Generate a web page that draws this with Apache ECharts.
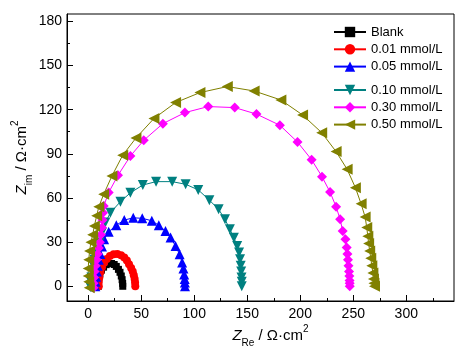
<!DOCTYPE html>
<html>
<head>
<meta charset="utf-8">
<script src="https://cdn.jsdelivr.net/npm/echarts@6.0.0/dist/echarts.min.js"></script>
<style>
html, body { margin: 0; padding: 0; background: #fff; }
#main { width: 471px; height: 353px; }
</style>
</head>
<body>
<div id="main"></div>
<script>
// Nyquist data, [Z_Re, Z_im] in ohm.cm2
var seriesNames = ['Blank', '0.01 mmol/L', '0.05 mmol/L', '0.10 mmol/L', '0.30 mmol/L', '0.50 mmol/L'];

var blankData = [[9.5,0],[9.5,3],[10,6],[11,8.5],[12.5,11],[14.5,13],[17,14.7],[19.5,15.5],[22,15.5],[24.5,14.8],
    [26.5,13.5],[28.5,11.5],[30,9.5],[31.2,7],[32,4.5],[32.5,2],[32.6,0]];

var data001 = [[10,0],[10,3],[10.5,6],[11.5,9.5],[13,13],[15,16],[17.5,18.5],[20.5,20.5],[24,21.8],[27.5,22],
    [31,21],[34,19.5],[36.5,17.5],[38.5,15],[40.5,12.5],[42,10],[43,7.5],[43.8,5],[44.2,2.5],[44.4,0]];

var data005 = [[6.7,0],[7,3],[7.5,6.5],[8.2,10],[9,14],[10,18],[11.4,22],[13,27],[15,32],[19.3,37],[26.5,41.5],
    [34,45],[42.5,46.5],[51,46.2],[60,44.5],[66.6,41.4],[72.9,37.6],[77.7,33.1],[82.4,27.4],[86.2,21.7],
    [88.6,16.1],[89.8,12],[90.5,8],[91,5],[91.2,2.5],[91.3,0]];

var data010 = [[2,-0.5],[2.5,3],[3,6],[4,10],[5,14],[6,18],[7.5,22],[8.9,25],[10.8,29.7],[13,36.5],[16.2,43.3],
    [20.9,50],[30.4,57.5],[39.8,63.5],[51.5,68.8],[64,71.1],[79.2,71.1],[91.9,69.3],[103.8,65.5],[114.3,58.5],
    [123,52.3],[129,45.5],[133.6,38.7],[137.4,33],[140.5,27.4],[142.3,22.9],[143.2,18.3],[143.8,14],[144.3,10],
    [144.6,6],[144.8,3],[144.8,0]];

var data030 = [[5,-1],[5,2],[5.5,6],[6,10],[7,14],[8,18],[9,22],[10,26],[11,30],[12,35],[13,40],[13.5,45],[14,50],
    [14.6,54.5],[19.3,63.7],[28.1,75.4],[39.8,88.5],[52.4,99.2],[70.4,110.5],[91.2,118],[113.2,122.1],[138.2,121.4],
    [158.7,117],[180.8,109.4],[197.4,98],[210.7,86],[220.5,74.5],[228.1,64],[233.8,54],[237.6,45.5],[240,37.6],
    [242.6,32],[243.8,26.3],[244.5,22],[245,18],[245.5,14],[246,10],[246.3,7],[246.5,4],[246.6,2],[246.7,0]];

var data050 = [[1,-1],[0.5,3],[0,7],[0,12],[0.5,18],[1.3,24],[2.6,30],[4.2,35],[5.8,41],[8,48],[10,54],[14.6,62.5],
    [22.4,75],[32.5,89],[45,100.7],[62,114],[82.4,124.8],[105.4,131.6],[131.2,135.7],[156.5,132.7],[181.7,126.6],
    [202.2,116.4],[220.2,104.4],[233.8,91.5],[244.2,79.5],[252,67],[257.4,56],[261.2,47],[262.7,40],[263.7,34],
    [264.5,29],[265.5,24],[266.5,19],[267.5,14],[268.5,9],[269,5],[269.5,2],[270,0]];

var xMajor = [0, 50, 100, 150, 200, 250, 300];
var xMinor = [25, 75, 125, 175, 225, 275, 325];
var yMajor = [0, 30, 60, 90, 120, 150, 180];
var yMinor = [15, 45, 75, 105, 135, 165];

var font = 'Liberation Sans, Arial, sans-serif';
var chart = echarts.init(document.getElementById('main'));

function mkSeries(name, data, color, symbol, size, rotate) {
    return {
        name: name,
        type: 'line',
        data: data,
        symbol: symbol,
        symbolSize: size,
        symbolRotate: rotate,
        itemStyle: { color: color },
        lineStyle: { color: color, width: 1 },
        xAxisIndex: 0,
        yAxisIndex: 0
    };
}

var nameRich = {
    i: { fontStyle: 'italic', fontSize: 15, fontFamily: font, color: '#000', lineHeight: 24 },
    s: { fontSize: 10, fontFamily: font, color: '#000', verticalAlign: 'bottom', lineHeight: 24 },
    p: { fontSize: 10, fontFamily: font, color: '#000', verticalAlign: 'top', lineHeight: 24 }
};

var gridBox = { left: 67, right: 17, top: 14, bottom: 52, outerBoundsMode: 'none' };
var legendText = { fontSize: 13, fontFamily: font, color: '#000', lineHeight: 14 };

var option = {
    animation: false,
    backgroundColor: '#fff',
    grid: [
        Object.assign({ show: true, borderColor: '#000', borderWidth: 1 }, gridBox),
        Object.assign({ show: false }, gridBox)   // only carries the minor ticks
    ],
    legend: [{
        data: seriesNames.slice(0, 3),
        orient: 'vertical',
        left: 328, top: 20,
        itemWidth: 32, itemHeight: 13, itemGap: 3.3,
        textStyle: legendText
    }, {
        data: seriesNames.slice(3),
        orient: 'vertical',
        left: 328, top: 78,
        itemWidth: 32, itemHeight: 13, itemGap: 3.3,
        textStyle: legendText
    }],
    xAxis: [{
        type: 'value', min: -20, max: 345, position: 'bottom', gridIndex: 0,
        name: '{i|Z}{s|Re} / Ω·cm{p|2}',
        nameLocation: 'middle', nameGap: 23, nameMoveOverlap: false,
        nameTextStyle: { fontSize: 15, fontFamily: font, color: '#000', lineHeight: 24, rich: nameRich,
            padding: [0, 0, 0, 20] },
        axisLine: { onZero: false, lineStyle: { color: '#000', width: 1 } },
        axisTick: { inside: true, length: 6, customValues: xMajor, lineStyle: { color: '#000' } },
        axisLabel: { customValues: xMajor, fontSize: 14, fontFamily: font, color: '#000', margin: 6 },
        splitLine: { show: false }
    }, {
        type: 'value', min: -20, max: 345, position: 'bottom', gridIndex: 1,
        axisLine: { show: false, onZero: false },
        axisTick: { inside: true, length: 3, customValues: xMinor, lineStyle: { color: '#000' } },
        axisLabel: { show: false },
        splitLine: { show: false }
    }],
    yAxis: [{
        type: 'value', min: -10, max: 185, position: 'left', gridIndex: 0,
        name: '{i|Z}{s|im} / Ω·cm{p|2}',
        nameLocation: 'middle', nameGap: 33, nameRotate: 90, nameMoveOverlap: false,
        nameTextStyle: { fontSize: 15, fontFamily: font, color: '#000', lineHeight: 24, rich: nameRich },
        axisLine: { onZero: false, lineStyle: { color: '#000', width: 1 } },
        axisTick: { inside: true, length: 6, customValues: yMajor, lineStyle: { color: '#000' } },
        axisLabel: { customValues: yMajor, fontSize: 14, fontFamily: font, color: '#000', margin: 5 },
        splitLine: { show: false }
    }, {
        type: 'value', min: -10, max: 185, position: 'left', gridIndex: 1,
        axisLine: { show: false, onZero: false },
        axisTick: { inside: true, length: 3, customValues: yMinor, lineStyle: { color: '#000' } },
        axisLabel: { show: false },
        splitLine: { show: false }
    }],
    series: [
        mkSeries(seriesNames[0], blankData, '#000000', 'rect', 7, 0),
        mkSeries(seriesNames[1], data001, '#FF0000', 'circle', 8, 0),
        mkSeries(seriesNames[2], data005, '#0000FF', 'triangle', 10, 0),
        mkSeries(seriesNames[3], data010, '#008080', 'triangle', 10, 180),
        mkSeries(seriesNames[4], data030, '#FF00FF', 'diamond', 10, 0),
        mkSeries(seriesNames[5], data050, '#808000', 'triangle', 11, 90)
    ]
};

chart.setOption(option);
</script>
</body>
</html>
